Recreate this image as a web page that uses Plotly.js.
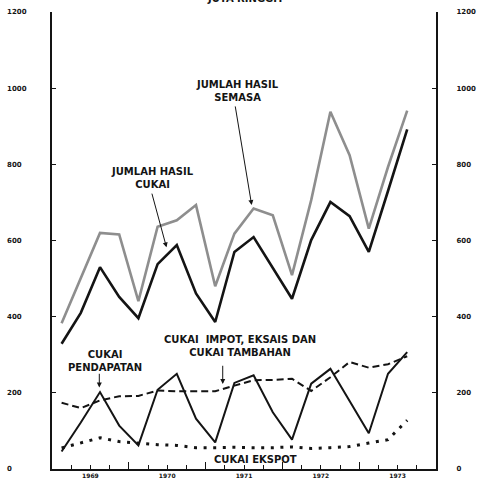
<!DOCTYPE html>
<html>
<head>
<meta charset="utf-8">
<script src="https://cdn.plot.ly/plotly-3.0.1.min.js"></script>
<style>html,body{margin:0;padding:0;background:#fff}#chart{width:483px;height:486px}</style>
</head>
<body>
<div id="chart"></div>
<script>
// Quarterly periods, 1969 Q1 – 1973 Q3 (juta ringgit)
const periods = ['1969-1','1969-2','1969-3','1969-4','1970-1','1970-2','1970-3','1970-4',
  '1971-1','1971-2','1971-3','1971-4','1972-1','1972-2','1972-3','1972-4','1973-1','1973-2','1973-3'];
const jumlahHasilSemasa = [383, 500, 620, 616, 441, 636, 653, 693, 480, 618, 684, 666, 509, 706, 938, 824, 631, 793, 941];
const jumlahHasilCukai  = [329, 410, 530, 452, 396, 538, 588, 461, 386, 570, 609, 527, 447, 601, 701, 664, 570, 730, 892];
const cukaiImpotEksais  = [174, 160, 180, 191, 192, 206, 204, 204, 204, 219, 233, 234, 237, 205, 241, 281, 266, 275, 296];
const cukaiPendapatan   = [46, 122, 202, 114, 62, 208, 250, 132, 70, 226, 246, 149, 77, 224, 263, 180, 94, 250, 307];
const cukaiEkspot       = [55, 68, 82, 72, 68, 64, 62, 56, 56, 57, 56, 56, 58, 54, 56, 59, 68, 77, 128];

const years = ['1969','1970','1971','1972','1973'];
const yTicks = [0, 200, 400, 600, 800, 1000, 1200];

const x = periods.map(p => { const [yr, q] = p.split('-').map(Number); return yr + (q - 0.5) / 4; });
const yearMid = years.map(y => +y + 0.5);
const yearBound = years.slice(1).map(y => +y);
const quarterBound = [];
years.forEach(y => { for (let q = 1; q < 4; q++) quarterBound.push(+y + q / 4); });
const FS = '\u2007';
const leftText = yTicks.map(v => String(v) + FS.repeat(4 - String(v).length));
const rightText = yTicks.map(v => String(v));

const ink = '#141414';
const traces = [
  {x: x, y: jumlahHasilSemasa, mode: 'lines', line: {color: '#8e8e8e', width: 2.6}},
  {x: x, y: jumlahHasilCukai, mode: 'lines', line: {color: ink, width: 2.6}},
  {x: x, y: cukaiImpotEksais, mode: 'lines', line: {color: ink, width: 2, dash: '7px,4px'}},
  {x: x, y: cukaiPendapatan, mode: 'lines', line: {color: ink, width: 2}},
  {x: x, y: cukaiEkspot, mode: 'lines', line: {color: ink, width: 3, dash: '3px,6.6px'}, xaxis: 'x2', yaxis: 'y2'}
];

const tf = {family: 'DejaVu Sans', size: 7, color: ink, weight: 'bold'};
const af = {family: 'DejaVu Sans', size: 10, color: ink, weight: 'bold'};
const arrow = (hx, hy, tx, ty) => ({x: hx, y: hy, ax: tx, ay: ty, axref: 'x', ayref: 'y', xref: 'x', yref: 'y',
  text: '', showarrow: true, arrowhead: 2, arrowsize: 1, arrowwidth: 1, arrowcolor: ink, standoff: 0, startstandoff: 0});
const label = (tx, px, py) => ({x: px, y: py, xref: 'x', yref: 'y', text: tx, showarrow: false, font: af, align: 'center'});

const layout = {
  width: 483, height: 486,
  margin: {l: 52, r: 47, t: 12, b: 17},
  paper_bgcolor: '#fff', plot_bgcolor: '#fff',
  showlegend: false,
  xaxis: {range: [1969, 1974], tickmode: 'array', tickvals: yearMid, ticktext: years, ticks: '',
    showline: true, linewidth: 2, linecolor: ink, showgrid: false, zeroline: false,
    tickfont: {family: 'DejaVu Sans', size: 6, color: ink, weight: 'bold'},
    minor: {tickmode: 'array', tickvals: quarterBound, ticks: 'inside', ticklen: 4, tickwidth: 1, tickcolor: ink, showgrid: false}},
  xaxis2: {range: [1969, 1974], overlaying: 'x', anchor: 'y', side: 'bottom', tickmode: 'array', tickvals: yearBound,
    ticks: 'inside', ticklen: 7, tickwidth: 1.2, tickcolor: ink, showticklabels: false, showline: false, showgrid: false, zeroline: false},
  yaxis: {range: [0, 1200], tickmode: 'array', tickvals: yTicks, ticktext: leftText, ticks: 'inside', ticklen: 4, tickwidth: 1.2,
    tickcolor: ink, showline: true, linewidth: 2, linecolor: ink, showgrid: false, zeroline: false, tickfont: tf, ticklabelstandoff: 22},
  yaxis2: {range: [0, 1200], overlaying: 'y', side: 'right', anchor: 'x', tickmode: 'array', tickvals: yTicks, ticktext: rightText,
    ticks: 'inside', ticklen: 4, tickwidth: 1.2, tickcolor: ink, showline: true, linewidth: 2, linecolor: ink,
    showgrid: false, zeroline: false, tickfont: tf, ticklabelstandoff: 17},
  annotations: [
    {xref: 'paper', yref: 'paper', x: 0.505, y: 1.013, yanchor: 'bottom', text: 'JUTA RINGGIT', showarrow: false, font: af},
    label('JUMLAH HASIL<br>SEMASA', 1971.409, 992),
    arrow(1971.600, 693, 1971.383, 956),
    label('JUMLAH HASIL<br>CUKAI', 1970.315, 764),
    arrow(1970.491, 582, 1970.296, 727),
    label('CUKAI<br>PENDAPATAN', 1969.690, 283),
    arrow(1969.616, 214, 1969.616, 254),
    label('CUKAI  IMPOT, EKSAIS DAN<br>CUKAI TAMBAHAN', 1971.448, 322),
    arrow(1971.223, 223, 1971.223, 275),
    label('CUKAI EKSPOT', 1971.656, 25)
  ]
};

Plotly.newPlot('chart', traces, layout, {staticPlot: true, displayModeBar: false});
</script>
</body>
</html>
